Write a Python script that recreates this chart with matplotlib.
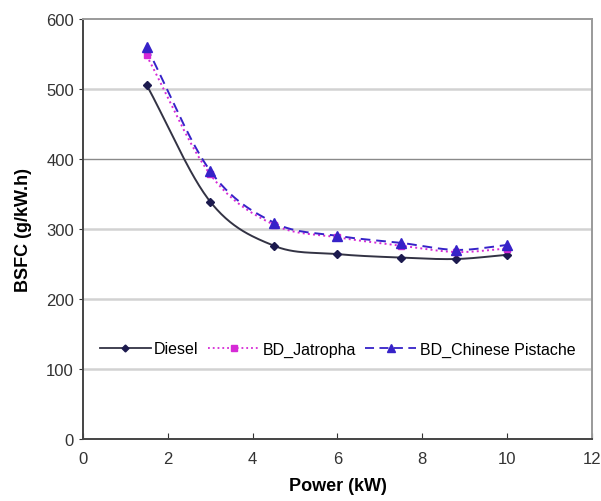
import numpy as np
import matplotlib
matplotlib.use("Agg")
import matplotlib.pyplot as plt

plt.rcParams['font.family'] = ['Liberation Sans', 'DejaVu Sans']

# engine load points (kW) and brake specific fuel consumption (g/kW.h)
power = [1.5, 3.0, 4.5, 6.0, 7.5, 8.8, 10.0]
bsfc_diesel = [506, 339, 276, 264, 259, 257, 263]
bsfc_jatropha = [548, 378, 306, 288, 276, 267, 272]
bsfc_pistache = [560, 383, 309, 290, 280, 270, 277]

yticks = [0, 100, 200, 300, 400, 500, 600]
xticks = [0, 2, 4, 6, 8, 10, 12]


def smooth(x, y, n=30):
    """Catmull-Rom curve through the points, like a spreadsheet smoothed line"""
    x = np.asarray(x, float)
    y = np.asarray(y, float)
    px = np.concatenate([[2 * x[0] - x[1]], x, [2 * x[-1] - x[-2]]])
    py = np.concatenate([[2 * y[0] - y[1]], y, [2 * y[-1] - y[-2]]])
    xs, ys = [], []
    t = np.linspace(0, 1, n)
    for i in range(1, len(px) - 2):
        for p, out in ((px, xs), (py, ys)):
            p0, p1, p2, p3 = p[i - 1], p[i], p[i + 1], p[i + 2]
            out.append(0.5 * (2 * p1 + (-p0 + p2) * t
                              + (2 * p0 - 5 * p1 + 4 * p2 - p3) * t ** 2
                              + (-p0 + 3 * p1 - 3 * p2 + p3) * t ** 3))
    return np.concatenate(xs), np.concatenate(ys)


fig = plt.figure(figsize=(6.01, 5.02), dpi=100)
ax = fig.add_axes([0.138, 0.124, 0.847, 0.836])

for yv in yticks[1:-1]:
    col = '#8a8a8a' if yv == 400 else '#d2d2d2'
    lw = 1.0 if yv == 400 else 1.8
    ax.axhline(yv, color=col, lw=lw, zorder=0)

series = [
    (bsfc_diesel, 'Diesel', '#1c1a4e', '-', 'D', 4.5, (None, None)),
    (bsfc_jatropha, 'BD_Jatropha', '#d62ad6', ':', 's', 5, (None, None)),
    (bsfc_pistache, 'BD_Chinese Pistache', '#3622c8', '--', '^', 7, (5, 3)),
]
for vals, name, col, ls, mk, ms, dash in series:
    sx, sy = smooth(power, vals)
    line_col = '#333344' if name == 'Diesel' else col
    ln, = ax.plot(sx, sy, color=line_col, ls=ls, lw=1.4, zorder=2)
    if dash[0]:
        ln.set_dashes(dash)
    ax.plot(power, vals, ls='none', marker=mk, ms=ms, color=col, zorder=3)
    h, = ax.plot([], [], color=line_col, ls=ls, lw=1.3, marker=mk, ms=ms - 1,
                 markerfacecolor=col, markeredgecolor=col, label=name)
    if dash[0]:
        h.set_dashes(dash)

ax.set_xlim(0, 12)
ax.set_ylim(0, 600)
ax.set_xticks(xticks)
ax.set_yticks(yticks)
ax.tick_params(axis='x', direction='in', length=4, labelsize=12, colors='#333333', pad=9)
ax.tick_params(axis='y', direction='out', length=3, labelsize=12, colors='#333333')
for s in ['left', 'bottom']:
    ax.spines[s].set_color('#444444')
    ax.spines[s].set_linewidth(1.4)
for s in ['right', 'top']:
    ax.spines[s].set_color('#9a9a9a')
    ax.spines[s].set_linewidth(1.4)

ax.set_xlabel('Power (kW)', fontsize=13, fontweight='bold', labelpad=8)
ax.set_ylabel('BSFC (g/kW.h)', fontsize=13, fontweight='bold', labelpad=10)

ax.legend(loc='center', bbox_to_anchor=(0.5, 0.214), ncol=3, frameon=False,
          fontsize=11.5, handlelength=3.2, handletextpad=0.2, columnspacing=0.6)

fig.savefig('out.png', dpi=100)
